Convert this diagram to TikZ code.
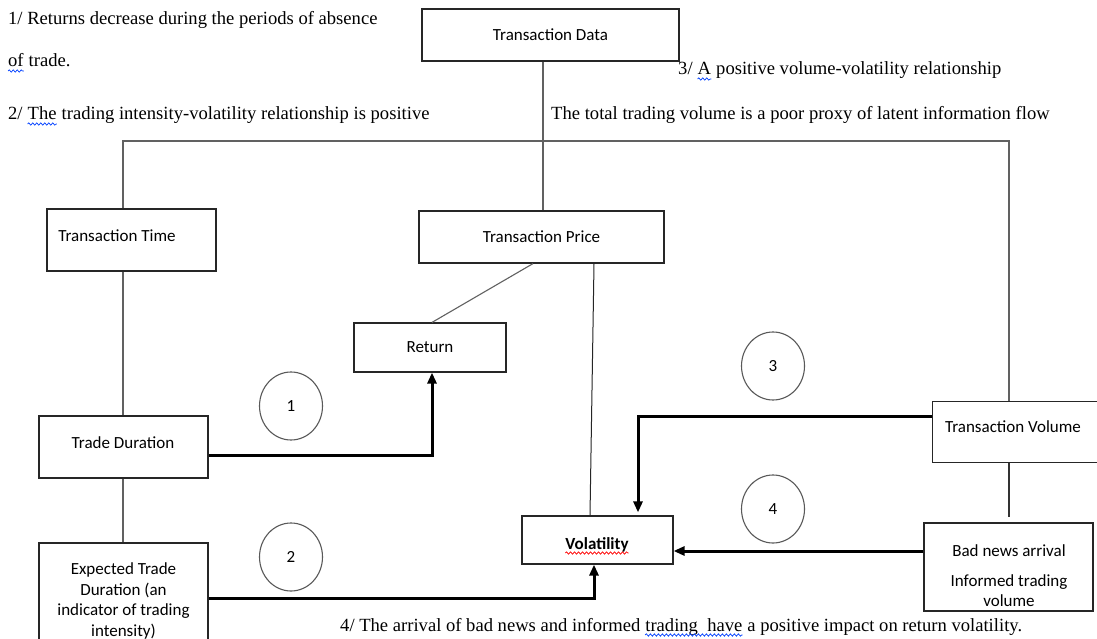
\documentclass[tikz,border=0pt]{standalone}
\usepackage{fontspec}
\setmainfont{Liberation Serif}
\newfontfamily\calfont{Carlito}
\usetikzlibrary{arrows.meta,shapes.geometric,calc,decorations.pathmorphing}
\tikzset{
  box/.style={draw=black!85, line width=1.2pt, inner sep=0pt, align=center,
    font=\calfont\fontsize{17}{20.7}\selectfont},
  lbl/.style={inner sep=0pt, anchor=base, font=\calfont\fontsize{17}{20.7}\selectfont},
  conn/.style={draw=black!62, line width=1.1pt},
  arr/.style={draw=black, line width=3pt, -{Triangle[length=11pt,width=9pt]}},
  num/.style={ellipse, draw=black!65, line width=1.1pt, minimum width=63pt,
    minimum height=68pt, inner sep=0pt, font=\calfont\fontsize{17}{20}\selectfont},
  note/.style={inner sep=0pt, anchor=base west, font=\fontsize{18.6}{22}\selectfont},
  wave/.style={draw=blue!75!cyan, line width=0.7pt, decorate,
    decoration={snake, amplitude=1.2pt, segment length=4pt}},
  rwave/.style={wave, draw=red}
}
\begin{document}
\begin{tikzpicture}[x=1pt,y=-1pt]
\useasboundingbox (0,0) rectangle (1097,639);
\clip (0,0) rectangle (1097,639);
\fill[white] (0,0) rectangle (1097,639);

% boxes
\node[box, minimum width=257, minimum height=52] (TD) at (550.5,35) {Transaction Data};
\node[box, minimum width=169, minimum height=62] (TT) at (131.5,240) {};
\node[lbl] (TTt) at (117,241) {Transaction Time};
\node[box, minimum width=245, minimum height=52] (TP) at (541.5,237) {Transaction Price};
\node[box, minimum width=152, minimum height=49] (RET) at (430,347.5) {Return};
\node[box, minimum width=169, minimum height=62] (TDU) at (123.5,447) {};
\node[lbl] (TDUt) at (123,448) {Trade Duration};
\node[box, minimum width=169, minimum height=116] (ETD) at (123.5,601)
  {Expected Trade\\Duration (an\\indicator of trading\\intensity)};
\node[box, minimum width=151, minimum height=48] (VOL) at (597.5,540) {};
\node[lbl, font=\calfont\bfseries\fontsize{17}{20.7}\selectfont] (VOLt) at (597,549) {Volatility};
\draw[rwave] ($(VOLt.base west)+(0,4)$) -- ($(VOLt.base east)+(0,4)$);
\node[box, minimum width=175, minimum height=61, anchor=north west] (TV) at (932,401) {};
\node[lbl] (TVt) at (1013,432) {Transaction Volume};
\node[box, minimum width=169, minimum height=88] (BN) at (1008.5,567) {};
\node[lbl] (BNt1) at (1009,556) {Bad news arrival};
\node[lbl] (BNt2) at (1009,586) {Informed trading};
\node[lbl] (BNt3) at (1009,606) {volume};

% numbered circles
\node[num] (C1) at (291,406) {1};
\node[num] (C2) at (291,557) {2};
\node[num] (C3) at (773,366) {3};
\node[num] (C4) at (773,509) {4};

% thin connectors
\coordinate (busL) at (123,141);
\coordinate (busR) at (1009,141);
\coordinate (tdx) at (543,0);
\draw[conn] (TT.north -| busL) -- (busL) -- (busR) -- (TV.north -| busR);
\draw[conn] (TD.south -| tdx) -- (TP.north -| tdx);
\draw[conn] (TT.south -| busL) -- (TDU.north -| busL);
\draw[conn] (TDU.south -| busL) -- (ETD.north -| busL);
\draw[conn, draw=black!80, shorten >=5pt] (TV.south -| busR) -- (BN.north -| busR);
\draw[conn] ($(TP.south)+(-8.5,0)$) -- ($(RET.north)+(2,0)$);
\draw[conn, draw=black!85, line width=1pt] ($(TP.south)+(52.5,0)$) -- ($(VOL.north)+(-7.5,0)$);

% thick arrows
\draw[arr] ($(TDU.east)+(0,8)$) -| ($(RET.south)+(2,0)$);
\draw[arr] ($(ETD.east)+(0,-3)$) -| ($(VOL.south)+(-3.5,0)$);
\draw[arr] ($(TV.west)+(0,-15.5)$) -| ($(VOL.north)+(40.5,-3)$);
\draw[arr] ($(BN.west)+(0,-16)$) -- ($(VOL.east)+(0,11)$);

% notes
\node[note] (n1) at (8,25) {1/ Returns decrease during the periods of absence};
\node[note] (w1) at (8,67) {of};
\node[note] (n1b) at (w1.base east) {\ trade.};
\node[note] (n2a) at (8,120) {2/\ \mbox{}};
\node[note] (w2) at (n2a.base east) {The};
\node[note] (n2b) at (w2.base east) {\ trading intensity-volatility relationship is positive};
\node[note] (n3a) at (678,75) {3/\ \mbox{}};
\node[note] (w3) at (n3a.base east) {A};
\node[note] (n3b) at (w3.base east) {\ positive volume-volatility relationship};
\node[note] (n3c) at (551,120) {The total trading volume is a poor proxy of latent information flow};
\node[note] (n4a) at (340,631) {4/ The arrival of bad news and informed\ \mbox{}};
\node[note] (w4) at (n4a.base east) {trading\ \ have};
\node[note] (n4b) at (w4.base east) {\ a positive impact on return volatility.};
\foreach \w in {w1,w2,w3,w4}
  \draw[wave] ($(\w.base west)+(0,4)$) -- ($(\w.base east)+(0,4)$);
\end{tikzpicture}
\end{document}
